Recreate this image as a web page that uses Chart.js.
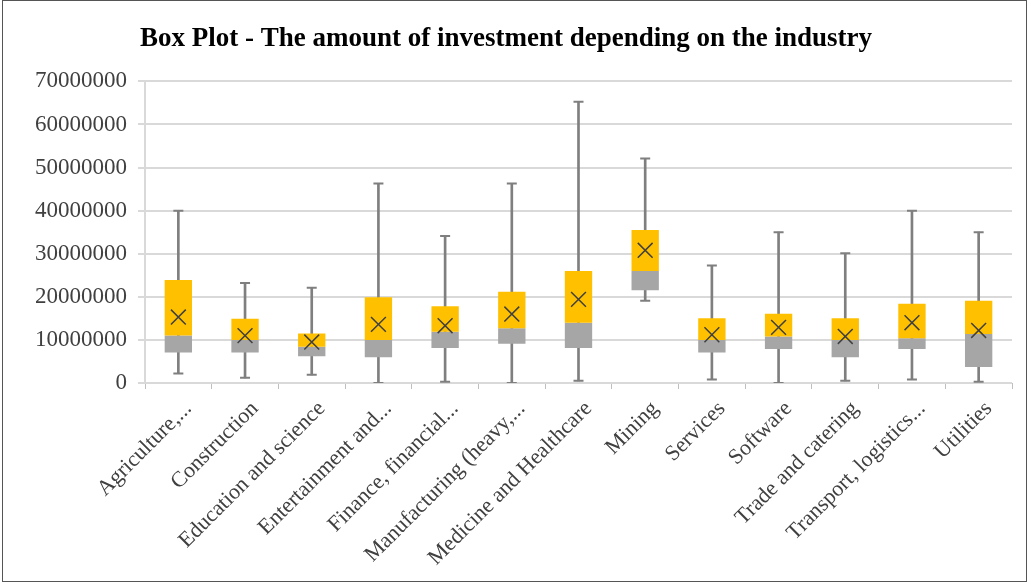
<!DOCTYPE html>
<html>
<head>
<meta charset="utf-8">
<script src="https://cdn.jsdelivr.net/npm/chart.js@4.4.0/dist/chart.umd.min.js"></script>
<style>
  html, body { margin: 0; padding: 0; background: #fff; }
  #frame { position: absolute; left: 2px; top: 0; width: 1025px; height: 582px; border: 1px solid #555; box-sizing: border-box; }
  #wrap { position: absolute; left: 0; top: 0; width: 1031px; height: 585px; }
</style>
</head>
<body>
<div id="frame"></div>
<div id="wrap"><canvas id="chart" width="1031" height="585"></canvas></div>
<script>
// industries and five-number summaries
const industries = [
    'Agriculture,...', 'Construction', 'Education and science', 'Entertainment and...',
    'Finance, financial...', 'Manufacturing (heavy,...', 'Medicine and Healthcare', 'Mining',
    'Services', 'Software', 'Trade and catering', 'Transport, logistics...', 'Utilities'
];
const minVals    = [2200000, 1200000, 1900000, 0, 300000, 0, 500000, 19100000, 800000, 0, 500000, 800000, 300000];
const q1Vals     = [7100000, 7100000, 6200000, 6000000, 8100000, 9100000, 8100000, 21500000, 7100000, 7900000, 6000000, 7900000, 3700000];
const medianVals = [11000000, 10000000, 8400000, 10000000, 11900000, 12700000, 14000000, 26000000, 10000000, 10800000, 10000000, 10400000, 11400000];
const q3Vals     = [23900000, 14900000, 11500000, 19900000, 17800000, 21200000, 26000000, 35500000, 15000000, 16100000, 15000000, 18400000, 19100000];
const maxVals    = [40000000, 23200000, 22100000, 46300000, 34100000, 46300000, 65300000, 52100000, 27300000, 35000000, 30100000, 40000000, 35000000];
const meanVals   = [15300000, 11000000, 9500000, 13600000, 13300000, 16000000, 19400000, 30800000, 11200000, 12900000, 10800000, 14000000, 12200000];
const yTicks     = [0, 10000000, 20000000, 30000000, 40000000, 50000000, 60000000, 70000000];

const whiskerColor = '#7f7f7f';
const lowerColor = '#a6a6a6';
const upperColor = '#ffc000';
const serif = '"Liberation Serif", "Times New Roman", serif';

const lowerBoxes = industries.map((_, i) => [q1Vals[i], medianVals[i]]);
const upperBoxes = industries.map((_, i) => [medianVals[i], q3Vals[i]]);
const whiskers = industries.map((_, i) => [minVals[i], maxVals[i]]);

const ctx = document.getElementById('chart').getContext('2d');
new Chart(ctx, {
    data: {
        labels: industries,
        datasets: [
            { type: 'scatter', data: meanVals, order: 0, pointStyle: 'crossRot', pointRadius: 10.5,
              borderColor: '#404040', borderWidth: 1.5, backgroundColor: 'transparent' },
            { type: 'line', data: maxVals, order: 1, showLine: false, pointStyle: 'line', pointRadius: 5,
              borderColor: whiskerColor, borderWidth: 2 },
            { type: 'line', data: minVals, order: 1, showLine: false, pointStyle: 'line', pointRadius: 5,
              borderColor: whiskerColor, borderWidth: 2 },
            { type: 'bar', data: upperBoxes, order: 2, grouped: false, backgroundColor: upperColor,
              barPercentage: 0.41, categoryPercentage: 1 },
            { type: 'bar', data: lowerBoxes, order: 2, grouped: false, backgroundColor: lowerColor,
              barPercentage: 0.41, categoryPercentage: 1 },
            { type: 'bar', data: whiskers, order: 3, grouped: false, backgroundColor: whiskerColor,
              barThickness: 2 }
        ]
    },
    options: {
        responsive: false,
        animation: false,
        layout: { padding: { left: 0, right: 19, top: 0, bottom: 0 } },
        plugins: {
            legend: { display: false },
            tooltip: { enabled: false },
            title: {
                display: true,
                text: 'Box Plot - The amount of investment depending on the industry',
                color: '#000',
                font: { family: serif, size: 27, weight: 'bold' },
                padding: { top: 23, bottom: 26 }
            }
        },
        scales: {
            x: {
                type: 'category',
                offset: true,
                afterFit: (scale) => { scale.height = 202; },
                grid: { offset: true, drawOnChartArea: false, drawTicks: true, tickLength: 6, color: '#bfbfbf', lineWidth: 1 },
                border: { display: false },
                ticks: { color: '#404040', font: { family: serif, size: 22 }, minRotation: 45, maxRotation: 45,
                         autoSkip: false, padding: 7, labelOffset: 10 }
            },
            y: {
                min: 0,
                max: 70000000,
                afterFit: (scale) => { scale.width = 145; },
                afterBuildTicks: (axis) => { axis.ticks = yTicks.map(v => ({ value: v })); },
                grid: { color: '#d9d9d9', lineWidth: 2, tickLength: 7 },
                border: { display: true, color: '#d9d9d9', width: 2 },
                ticks: { color: '#404040', font: { family: serif, size: 23 }, padding: 11, callback: v => String(v) }
            }
        }
    }
});
</script>
</body>
</html>
